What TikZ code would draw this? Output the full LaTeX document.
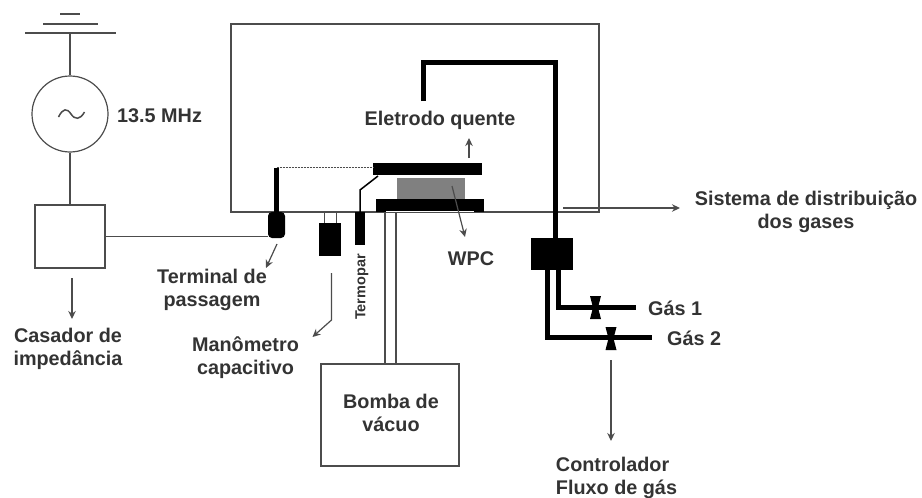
\documentclass[tikz,border=0pt]{standalone}
\usepackage{fontspec}
\setmainfont{Liberation Sans}
\usetikzlibrary{arrows.meta}
\definecolor{wirecol}{rgb}{0.3,0.3,0.3}
\definecolor{labelcol}{rgb}{0.2,0.2,0.2}
\definecolor{samplecol}{rgb}{0.5,0.5,0.5}
\tikzset{
	wire/.style={draw=wirecol, line width=1.2pt},
	pointer/.style={wire, -{Stealth[length=8pt,width=7.5pt]}},
	pipe/.style={draw=black, line width=5pt},
	label/.style={text=labelcol, font=\fontsize{19.8}{23}\selectfont\bfseries, align=center, inner sep=0pt},
	unitbox/.style={wire, rectangle, inner sep=0pt},
	block/.style={fill=black, rectangle, inner sep=0pt},
}
\begin{document}
\begin{tikzpicture}[x=1pt, y=-1pt]
	\useasboundingbox (0, 0) rectangle (922, 498);
	% fonte de RF
	\node[wire, circle, minimum size=76pt, inner sep=0pt] (source) at (70, 114) {};
	\draw[wirecol, line width=1.5pt] (58.5, 117) .. controls (63, 108) and (67, 108) .. (71, 114) .. controls (75, 120) and (80, 120) .. (84.5, 112);
	\node[label, anchor=west] (freq) at (117, 116) {13.5 MHz};
	\coordinate (gnd) at (70, 33);
	\draw[wire] (25, 33) -- (116, 33);
	\draw[wire] (43, 24) -- (98, 24);
	\draw[wire] (60, 14) -- (80, 14);
	\draw[wire] (gnd) -- (source);
	\node[unitbox, minimum width=70pt, minimum height=63pt] (match) at (70, 236.5) {};
	\draw[wire] (source) -- (match);
	\coordinate (matchtip) at (72, 319);
	\draw[pointer] (72, 278) -- (matchtip);
	\node[label] (matchlabel) at (68, 349) {Casador de\\impedância};
	% camara
	\node[unitbox, minimum width=368pt, minimum height=188pt] (chamber) at (415, 118) {};
	% eletrodos e amostra
	\fill[samplecol] (397, 178) rectangle (465, 200);
	\node[block, minimum width=109pt, minimum height=12pt] (hot) at (427.5, 169) {};
	\fill[black] (376, 199) rectangle (484, 212);
	\fill[white] (386, 210.5) rectangle (474, 212);
	\draw[pointer] (469, 158) -- (469, 138);
	\node[label] (hotlabel) at (440, 120) {Eletrodo quente};
	\draw[pointer] (452, 186) -- (465, 237);
	\node[label] (wpc) at (471, 259) {WPC};
	% terminal de passagem
	\node[block, rounded corners=4pt, minimum width=17pt, minimum height=26pt] (terminal) at (276.5, 225) {};
	\coordinate (rodtop) at (276.5, 167.5);
	\draw[black, line width=5pt] (terminal.north) -- (rodtop);
	\draw[wirecol, line width=.5pt, densely dotted] (rodtop) -- (rodtop -| hot.west);
	\draw[wire] (match.east) -- (match.east -| terminal.west);
	\draw[pointer] (277, 244) -- (266, 268);
	\node[label] (termlabel) at (212, 290) {Terminal de\\passagem};
	% manometro
	\node[block, minimum width=22pt, minimum height=33pt] (gauge) at (330, 239.5) {};
	\draw[wire, line width=1pt] (324, 212) -- (324, 223);
	\draw[wire, line width=1pt] (336, 212) -- (336, 223);
	\draw[pointer] (331.5, 273) -- (331.5, 320) -- (312.5, 337);
	\node[label] (gaugelabel) at (245.5, 358) {Manômetro\\capacitivo};
	% termopar
	\node[block, minimum width=10pt, minimum height=33pt] (thermo) at (360, 228.5) {};
	\draw[black, line width=1.5pt] (thermo.north) -- (360, 190) -- (378, 176);
	\node[label, rotate=90, font=\fontsize{14.5}{15}\selectfont\bfseries] (thermolabel) at (362, 287) {Termopar};
	% bomba
	\node[unitbox, minimum width=138pt, minimum height=102pt] (pump) at (390, 415) {};
	\draw[wire] (385, 212) -- (385, 364);
	\draw[wire] (396, 212) -- (396, 364);
	\node[label] (pumplabel) at (391, 413) {Bomba de\\vácuo};
	% linha de gases
	\node[block, minimum width=42pt, minimum height=32pt] (mfc) at (552, 254) {};
	\draw[pipe, miter limit=10] (423, 101) -- (423, 62) -- (555, 62) -- (555, 238);
	\draw[pipe] (558.5, 270) -- (558.5, 307) -- (636, 307);
	\draw[pipe] (547.5, 270) -- (547.5, 337) -- (652, 337);
	\foreach \x/\y in {595.5/307.5, 611/338.5} {
		\fill[black] (\x-5.5, \y-11.5) -- (\x+5.5, \y-11.5) -- (\x+2.5, \y) -- (\x+5.5, \y+11.5) -- (\x-5.5, \y+11.5) -- (\x-2.5, \y) -- cycle;
	}
	\node[label, anchor=west] (gas1) at (648, 308) {Gás 1};
	\node[label, anchor=west] (gas2) at (667, 338) {Gás 2};
	\draw[pointer] (611, 360) -- (611, 441);
	\node[label, align=left] (flowlabel) at (616.5, 478) {Controlador\\Fluxo de gás};
	\draw[pointer] (563, 208) -- (680, 208);
	\node[label] (distlabel) at (806, 212) {Sistema de distribuição\\dos gases};
\end{tikzpicture}
\end{document}
